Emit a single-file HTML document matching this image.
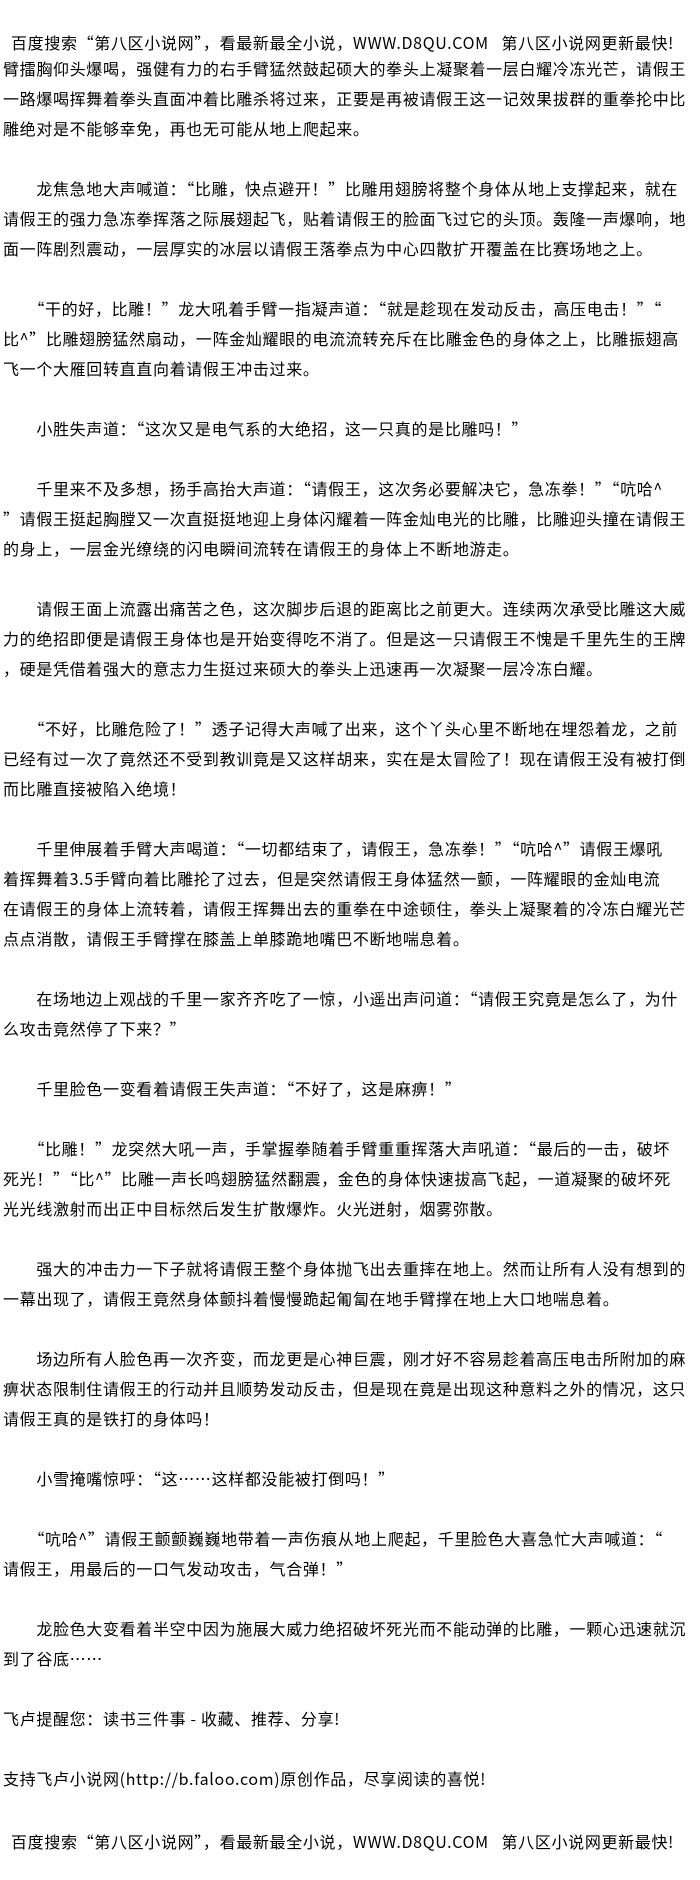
<!DOCTYPE html>
<html lang="zh-CN"><head><meta charset="utf-8">
<style>
html,body{margin:0;padding:0;background:#fff;}
body{width:700px;height:1880px;overflow:hidden;position:relative;
font-family:"Noto Sans CJK SC","WenQuanYi Zen Hei","Liberation Sans",sans-serif;
font-size:16px;letter-spacing:0.66px;color:#000;}
#hd{position:absolute;left:11px;top:27px;line-height:30px;white-space:nowrap;}
#bd{position:absolute;left:3px;top:53px;line-height:30px;white-space:nowrap;}
#bd div{height:30px;}
</style></head><body>
<div id="hd">百度搜索“第八区小说网”，看最新最全小说，WWW.D8QU.COM&nbsp;&nbsp; 第八区小说网更新最快!</div>
<div id="bd">
<div>臂擂胸仰头爆喝，强健有力的右手臂猛然鼓起硕大的拳头上凝聚着一层白耀冷冻光芒，请假王</div>
<div>一路爆喝挥舞着拳头直面冲着比雕杀将过来，正要是再被请假王这一记效果拔群的重拳抡中比</div>
<div>雕绝对是不能够幸免，再也无可能从地上爬起来。</div>
<div></div>
<div>　　龙焦急地大声喊道：“比雕，快点避开！”比雕用翅膀将整个身体从地上支撑起来，就在</div>
<div>请假王的强力急冻拳挥落之际展翅起飞，贴着请假王的脸面飞过它的头顶。轰隆一声爆响，地</div>
<div>面一阵剧烈震动，一层厚实的冰层以请假王落拳点为中心四散扩开覆盖在比赛场地之上。</div>
<div></div>
<div>　　“干的好，比雕！”龙大吼着手臂一指凝声道：“就是趁现在发动反击，高压电击！”“</div>
<div>比^”比雕翅膀猛然扇动，一阵金灿耀眼的电流流转充斥在比雕金色的身体之上，比雕振翅高</div>
<div>飞一个大雁回转直直向着请假王冲击过来。</div>
<div></div>
<div>　　小胜失声道：“这次又是电气系的大绝招，这一只真的是比雕吗！”</div>
<div></div>
<div>　　千里来不及多想，扬手高抬大声道：“请假王，这次务必要解决它，急冻拳！”“吭哈^</div>
<div>”请假王挺起胸膛又一次直挺挺地迎上身体闪耀着一阵金灿电光的比雕，比雕迎头撞在请假王</div>
<div>的身上，一层金光缭绕的闪电瞬间流转在请假王的身体上不断地游走。</div>
<div></div>
<div>　　请假王面上流露出痛苦之色，这次脚步后退的距离比之前更大。连续两次承受比雕这大威</div>
<div>力的绝招即便是请假王身体也是开始变得吃不消了。但是这一只请假王不愧是千里先生的王牌</div>
<div>，硬是凭借着强大的意志力生挺过来硕大的拳头上迅速再一次凝聚一层冷冻白耀。</div>
<div></div>
<div>　　“不好，比雕危险了！”透子记得大声喊了出来，这个丫头心里不断地在埋怨着龙，之前</div>
<div>已经有过一次了竟然还不受到教训竟是又这样胡来，实在是太冒险了！现在请假王没有被打倒</div>
<div>而比雕直接被陷入绝境！</div>
<div></div>
<div>　　千里伸展着手臂大声喝道：“一切都结束了，请假王，急冻拳！”“吭哈^”请假王爆吼</div>
<div>着挥舞着3.5手臂向着比雕抡了过去，但是突然请假王身体猛然一颤，一阵耀眼的金灿电流</div>
<div>在请假王的身体上流转着，请假王挥舞出去的重拳在中途顿住，拳头上凝聚着的冷冻白耀光芒</div>
<div>点点消散，请假王手臂撑在膝盖上单膝跪地嘴巴不断地喘息着。</div>
<div></div>
<div>　　在场地边上观战的千里一家齐齐吃了一惊，小遥出声问道：“请假王究竟是怎么了，为什</div>
<div>么攻击竟然停了下来？”</div>
<div></div>
<div>　　千里脸色一变看着请假王失声道：“不好了，这是麻痹！”</div>
<div></div>
<div>　　“比雕！”龙突然大吼一声，手掌握拳随着手臂重重挥落大声吼道：“最后的一击，破坏</div>
<div>死光！”“比^”比雕一声长鸣翅膀猛然翻震，金色的身体快速拔高飞起，一道凝聚的破坏死</div>
<div>光光线激射而出正中目标然后发生扩散爆炸。火光迸射，烟雾弥散。</div>
<div></div>
<div>　　强大的冲击力一下子就将请假王整个身体抛飞出去重摔在地上。然而让所有人没有想到的</div>
<div>一幕出现了，请假王竟然身体颤抖着慢慢跪起匍匐在地手臂撑在地上大口地喘息着。</div>
<div></div>
<div>　　场边所有人脸色再一次齐变，而龙更是心神巨震，刚才好不容易趁着高压电击所附加的麻</div>
<div>痹状态限制住请假王的行动并且顺势发动反击，但是现在竟是出现这种意料之外的情况，这只</div>
<div>请假王真的是铁打的身体吗！</div>
<div></div>
<div>　　小雪掩嘴惊呼：“这……这样都没能被打倒吗！”</div>
<div></div>
<div>　　“吭哈^”请假王颤颤巍巍地带着一声伤痕从地上爬起，千里脸色大喜急忙大声喊道：“</div>
<div>请假王，用最后的一口气发动攻击，气合弹！”</div>
<div></div>
<div>　　龙脸色大变看着半空中因为施展大威力绝招破坏死光而不能动弹的比雕，一颗心迅速就沉</div>
<div>到了谷底……</div>
<div></div>
<div>飞卢提醒您：读书三件事 - 收藏、推荐、分享!</div>
<div></div>
<div>支持飞卢小说网(http://b.faloo.com)原创作品，尽享阅读的喜悦!</div>
<div></div>
<div style="padding-left:8px;padding-top:3px;">百度搜索“第八区小说网”，看最新最全小说，WWW.D8QU.COM&nbsp;&nbsp; 第八区小说网更新最快!</div>
</div>
</body></html>
